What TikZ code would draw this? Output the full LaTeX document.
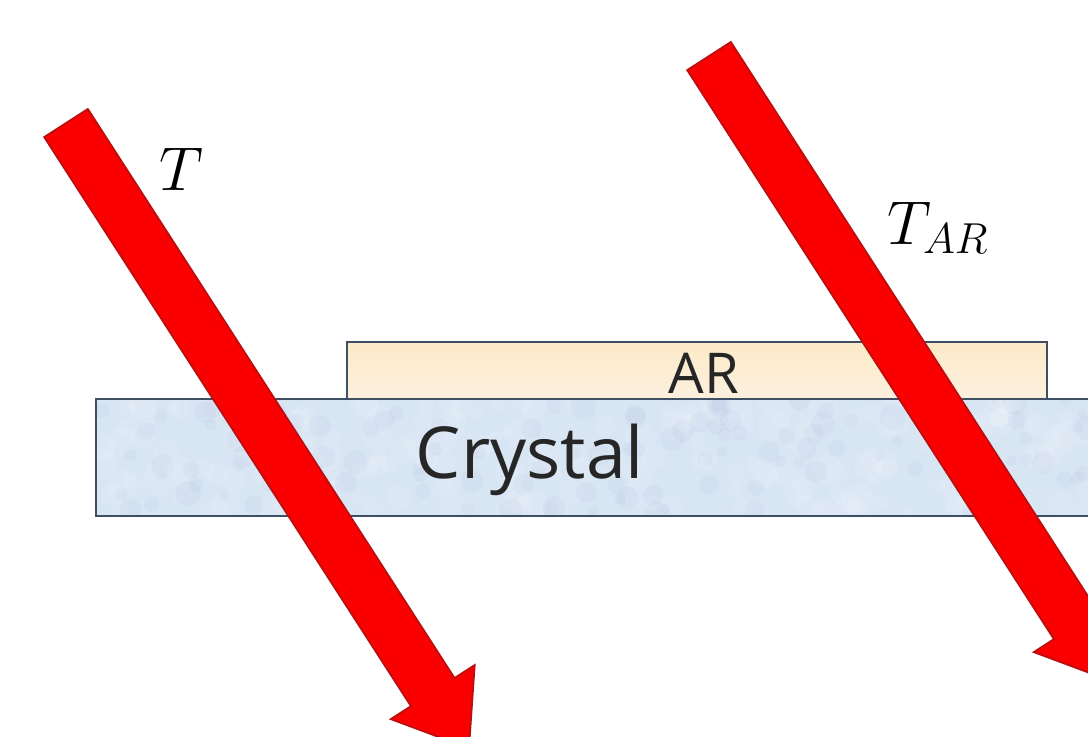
\RequirePackage{fix-cm}
\documentclass[tikz,border=0pt]{standalone}
\usepackage{fontspec}
\setmainfont{Open Sans}
\definecolor{beamred}{RGB}{250,0,0}
\definecolor{beamedge}{RGB}{185,15,15}
\definecolor{layeredge}{RGB}{62,78,100}
\definecolor{crystalfill}{RGB}{216,229,243}
\definecolor{arfilltop}{RGB}{252,234,200}
\definecolor{arfillbot}{RGB}{252,240,222}
\definecolor{labeltext}{RGB}{38,38,38}
\tikzset{
  layer/.style={draw=layeredge, line width=1.4pt},
  beam/.style={fill=beamred, draw=beamedge, line width=1.2pt, line join=miter},
  beam arrow/.pic={
    \draw[beam] (0,-26) -- (677,-26) -- (677,-50) -- (744,0)
                -- (677,50) -- (677,26) -- (0,26) -- cycle;
  },
  bigtext/.style={text=labeltext, inner sep=0pt},
}
\begin{document}
\begin{tikzpicture}[x=0.025cm, y=-0.025cm]
\useasboundingbox (0,0) rectangle (1088,737);
\clip (0,0) rectangle (1088,737);
\fill[white] (0,0) rectangle (1088,737);

% anti-reflection coating on top of the crystal
\shade[top color=arfilltop, bottom color=arfillbot] (347,342) rectangle (1047,399);
\draw[layer] (347,342) rectangle (1047,399);

% crystal slab, running off the right edge, with a soft mottled texture
\fill[crystalfill] (96,399) rectangle (1110,516);
\begin{scope}
  \clip (96,399) rectangle (1110,516);
  \pgfmathsetseed{4242}
  \foreach \i in {1,...,220} {
    \pgfmathsetmacro{\px}{96+1000*rnd}
    \pgfmathsetmacro{\py}{399+117*rnd}
    \pgfmathsetmacro{\pr}{6+10*rnd}
    \fill[white, opacity=0.10] (\px,\py) circle[radius=\pr];
  }
  \foreach \i in {1,...,120} {
    \pgfmathsetmacro{\px}{96+1000*rnd}
    \pgfmathsetmacro{\py}{399+117*rnd}
    \pgfmathsetmacro{\pr}{5+8*rnd}
    \fill[blue!30!gray, opacity=0.035] (\px,\py) circle[radius=\pr];
  }
\end{scope}
\draw[layer] (96,399) rectangle (1110,516);

\node[bigtext, font=\fontsize{40}{48}\selectfont, anchor=base] (ar) at (704,393) {AR};
\node[bigtext, font=\fontsize{51}{60}\selectfont, anchor=base] (crystal) at (530,478) {Crystal};

% transmitted beams
\coordinate (tailA) at (66,123);
\coordinate (tailB) at (709,56);
\pic[rotate=-57.2] at (tailA) {beam arrow};
\pic[rotate=-57.2] at (tailB) {beam arrow};

% beam labels
\node[text=black, inner sep=0pt, font=\fontsize{44}{52}\selectfont] (tlab) at (181,169) {$T$};
\node[text=black, inner sep=0pt, font=\fontsize{44}{52}\selectfont] (tarlab) at (938,228) {$T_{AR}$};
\end{tikzpicture}
\end{document}
